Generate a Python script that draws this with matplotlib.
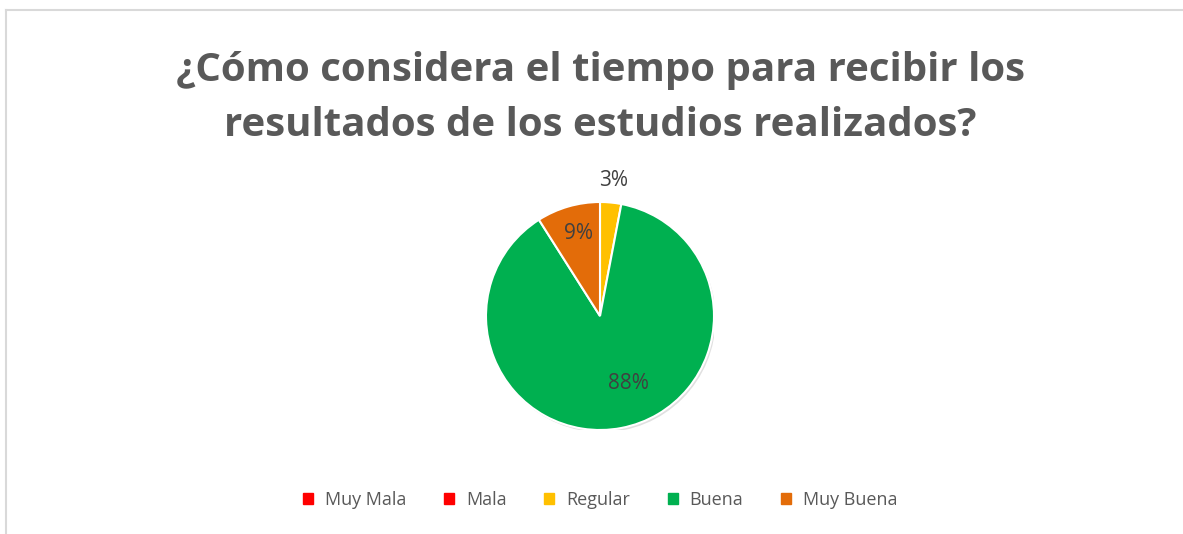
import matplotlib.pyplot as plt
from matplotlib.lines import Line2D
from matplotlib.patches import Circle

categories = ['Muy Mala', 'Mala', 'Regular', 'Buena', 'Muy Buena']
values = [0, 0, 3, 88, 9]
colors = ['#FF0000', '#FF0000', '#FFC000', '#00B050', '#E36C09']

# label spots (x, y) inside the pie axes, radius = 1
label_pos = {'Regular': (0.12, 1.19), 'Buena': (0.25, -0.59), 'Muy Buena': (-0.19, 0.72)}

plt.rcParams['font.family'] = ['Open Sans', 'DejaVu Sans']
text_color = '#595959'

W, H = 1183, 534
fig = plt.figure(figsize=(W / 100, H / 100), dpi=100)

# chart frame (only top and left edges show)
fig.add_artist(Line2D([5.5 / W, 5.5 / W], [0, 1 - 9.5 / H], color='#D9D9D9', lw=1.5))
fig.add_artist(Line2D([5.5 / W, 1], [1 - 9.5 / H, 1 - 9.5 / H], color='#D9D9D9', lw=1.5))

fig.text(0.5075, 1 - 70 / H, '¿Cómo considera el tiempo para recibir los',
         ha='center', va='center', fontsize=29, fontweight='bold', color=text_color)
fig.text(0.5075, 1 - 125 / H, 'resultados de los estudios realizados?',
         ha='center', va='center', fontsize=29, fontweight='bold', color=text_color)

cx, cy, r = 600, 316, 114
ax = fig.add_axes([(cx - r) / W, (H - cy - r) / H, 2 * r / W, 2 * r / H])
ax.add_patch(Circle((0.015, -0.02), 1.0, color='black', alpha=0.12, lw=0, zorder=0))
wedges, _ = ax.pie(values, colors=colors, startangle=90, counterclock=False,
                   wedgeprops=dict(edgecolor='white', linewidth=1.5))
for w in wedges:
    w.set_zorder(2)
ax.set_xlim(-1, 1)
ax.set_ylim(-1, 1)
ax.set_aspect('equal')
ax.axis('off')

for cat, val in zip(categories, values):
    if val > 0:
        x, y = label_pos[cat]
        ax.text(x, y, f'{val}%', ha='center', va='center', fontsize=15,
                color='#404040', zorder=3)

handles = [plt.Rectangle((0, 0), 1, 1, color=c) for c in colors]
leg = fig.legend(handles, categories, loc='center', bbox_to_anchor=(0.5075, 1 - 500 / H),
                 ncol=5, frameon=False, fontsize=13, handlelength=0.55, handleheight=0.55,
                 handletextpad=0.65, columnspacing=2.1)
for t in leg.get_texts():
    t.set_color(text_color)

plt.savefig('out.png', dpi=100)
